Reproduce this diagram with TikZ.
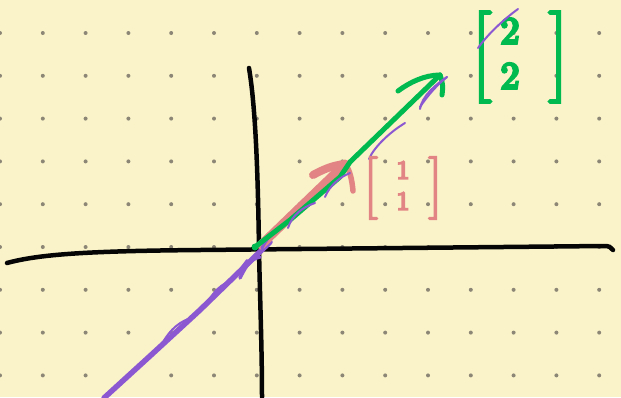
\documentclass[tikz,border=0pt]{standalone}
\usepackage{amsmath}
\usepackage{unicode-math}
\setmathfont{Latin Modern Math}[FakeBold=7]
\definecolor{paper}{RGB}{250,243,201}
\definecolor{dotc}{RGB}{140,134,118}
\definecolor{penblack}{RGB}{5,5,5}
\definecolor{pengreen}{RGB}{0,186,80}
\definecolor{penpink}{RGB}{226,132,132}
\definecolor{penpurple}{RGB}{140,88,210}
\tikzset{
  axisline/.style={draw=penblack, line width=4.5pt, line cap=round, line join=round},
  purpthick/.style={draw=penpurple, line width=5.5pt, line cap=round},
  purpthin/.style={draw=penpurple, line width=2pt, line cap=round},
  pinkpen/.style={draw=penpink, line width=9pt, line cap=round, line join=round},
  greenpen/.style={draw=pengreen, line width=5pt, line cap=round, line join=round},
  greenlabel/.style={text=pengreen, inner sep=0pt, font=\fontsize{38}{45}\selectfont},
  pinklabel/.style={text=penpink, inner sep=0pt, font=\fontsize{26}{31}\selectfont},
}
\begin{document}
\begin{tikzpicture}[x=1pt,y=-1pt]
\useasboundingbox (0,0) rectangle (621,397);
\fill[paper] (0,0) rectangle (621,397);
\foreach \i in {0,...,14}
  \foreach \j in {0,...,8}
    \fill[dotc] (42.8*\i, 33+42.8*\j) circle (2pt);

% coordinates
\coordinate (xl) at (7,263);
\coordinate (xr) at (613,250);
\coordinate (yt) at (249,68);
\coordinate (yb) at (262,397);
\coordinate (O) at (255,247);
\coordinate (G) at (440,75);
\coordinate (P) at (345,164);
\coordinate (ps) at (261,245);
\coordinate (pl) at (104,398);
\coordinate (pu) at (270,242);

% axes
\draw[axisline] (xl) .. controls (40,254) and (90,251) .. (200,250)
   -- (604,246) .. controls (609,246) and (611,247) .. (xr);
\draw[axisline] (yt) .. controls (256,110) and (258,180) .. (259,250)
   .. controls (260,300) and (262,350) .. (yb);

% purple line and scribbles (lower)
\draw[purpthick] (pl) -- (150,356) -- (200,310) -- (pu);
\draw[purpthin] (163,342) .. controls (170,330) and (180,320) .. (195,317);
\draw[purpthin] (208,302) .. controls (213,292) and (222,283) .. (233,280);
\draw[purpthin] (238,272) -- (247,260);
\draw[purpthin, line width=3.5pt] (240,278) .. controls (246,266) and (250,259) .. (260,257);

% pink arrow
\draw[pinkpen] (ps) -- (P);
\draw[pinkpen, line width=8pt] (313,175) .. controls (322,170) and (333,165) .. (P);
\draw[pinkpen, line width=5.5pt] (P) .. controls (350,170) and (352,180) .. (353,191);
\draw[purpthin, line width=3pt] (262,248) .. controls (266,240) and (270,236) .. (273,232);

% green arrow
\draw[greenpen] (O) -- (290,220) -- (340,177) -- (350,162) -- (G);
\draw[greenpen] (398,91) .. controls (410,82) and (425,75) .. (G);
\draw[greenpen] (G) .. controls (443,82) and (443,88) .. (442,95);
\fill[pengreen] (O) circle (3.5pt);

% purple scribbles (upper)
\draw[purpthin] (288,228) .. controls (292,215) and (303,207) .. (315,203);
\draw[purpthin] (325,197) .. controls (330,185) and (340,177) .. (350,173);
\draw[purpthin] (369,159) .. controls (374,147) and (390,132) .. (405,123);
\draw[purpthin] (420,109) .. controls (422,96) and (435,85) .. (447,77);

% labels
\node[pinklabel] (v1) at (403,188)
  {$\begin{bmatrix}\hspace{19pt}1\hspace{19pt}\\\hspace{19pt}1\hspace{19pt}\end{bmatrix}$};
\node[greenlabel] (v2) at (520,57)
  {$\begin{bmatrix}\hspace{9pt}2\hspace{29pt}\\\hspace{9pt}2\hspace{29pt}\end{bmatrix}$};
\draw[purpthin] (478,48) .. controls (488,34) and (503,20) .. (518,9);
\draw[purpthin] (420,107) .. controls (428,95) and (438,84) .. (447,77);
\end{tikzpicture}
\end{document}
